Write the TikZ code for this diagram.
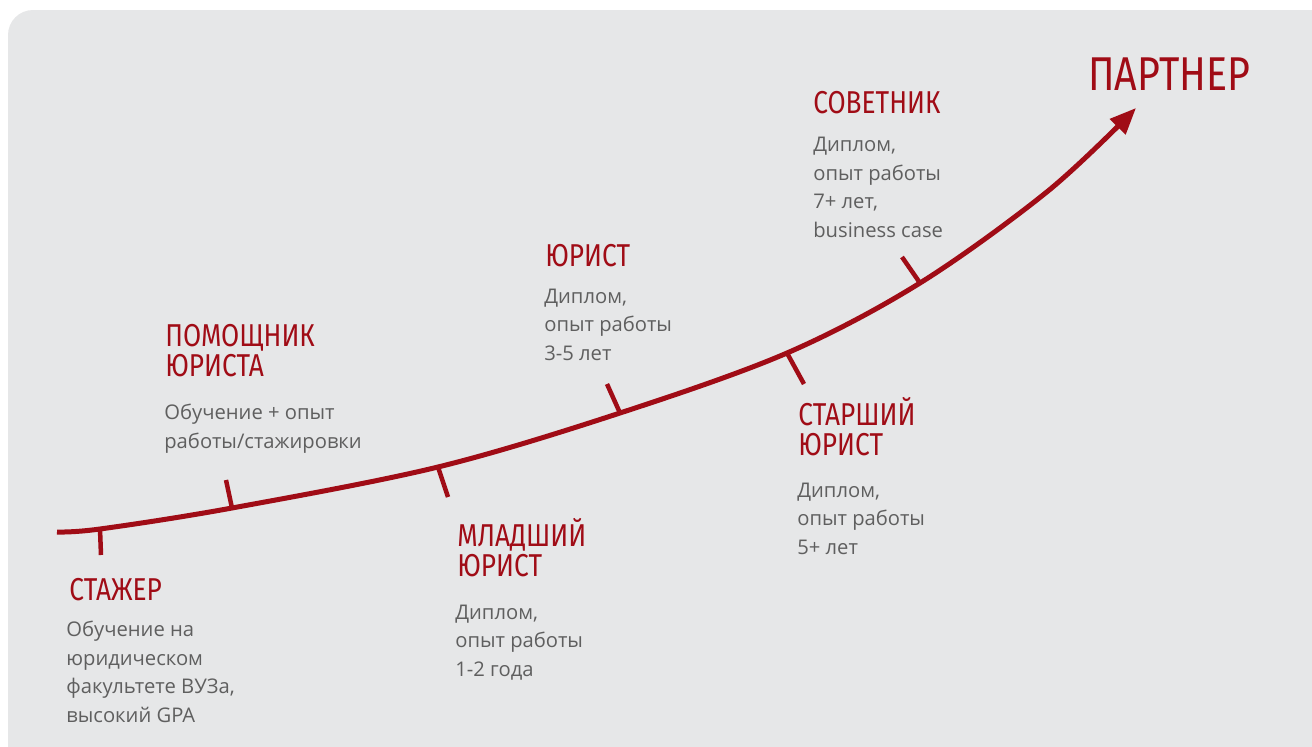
\documentclass[tikz,border=0pt]{standalone}
\usepackage{fontspec}
\setmainfont{Open Sans}
\newfontfamily\hdfont[FakeStretch=0.83]{Fira Sans}
\usetikzlibrary{arrows.meta}
\definecolor{bgc}{RGB}{230,231,232}
\definecolor{redc}{RGB}{160,12,22}
\definecolor{txtc}{RGB}{95,95,95}
\begin{document}
\begin{tikzpicture}[x=0.02cm,y=-0.02cm,
  head/.style={anchor=base west, inner sep=0pt, align=left, text=redc, font=\hdfont\fontsize{18}{17}\selectfont},
  desc/.style={anchor=base west, inner sep=0pt, align=left, text=txtc, font=\fontsize{11.5}{16.2}\selectfont},
  curve/.style={draw=redc, line width=0.1cm},
  tickline/.style={draw=redc, line width=0.09cm}]
\useasboundingbox (0,0) rectangle (1312,747);
\clip (0,0) rectangle (1312,747);
\fill[bgc, rounded corners=0.5cm] (8,10) rectangle (1360,790);
% curve points
\coordinate (c0) at (57,532);
\coordinate (c1) at (100,529);
\coordinate (c2) at (232,508);
\coordinate (c3) at (438,467);
\coordinate (c4) at (620,413);
\coordinate (c5) at (787,353);
\coordinate (c6) at (920,283);
\coordinate (c7) at (1048,191);
\coordinate (tip) at (1136,108);
\draw[curve, -{Triangle[length=15pt,width=12pt]}] plot[smooth, tension=0.55] coordinates {(c0) (c1) (c2) (c3) (c4) (c5) (c6) (c7) (tip)};
% ticks
\coordinate (k1) at (101,555);
\coordinate (k2) at (226,480);
\coordinate (k3) at (448,497);
\coordinate (k4) at (607,384);
\coordinate (k5) at (804,384);
\coordinate (k6) at (902,257);
\draw[tickline] (c1) -- (k1);
\draw[tickline] (c2) -- (k2);
\draw[tickline] (c3) -- (k3);
\draw[tickline] (c4) -- (k4);
\draw[tickline] (c5) -- (k5);
\draw[tickline] (c6) -- (k6);
% labels (anchored at the baseline of the last line)
\node[head] (h1) at (69,600) {СТАЖЕР};
\node[desc] (d1) at (66,722) {Обучение на\\юридическом\\факультете ВУЗа,\\высокий GPA};
\node[head] (h2) at (165,376) {ПОМОЩНИК\\ЮРИСТА};
\node[desc] (d2) at (164,448) {Обучение + опыт\\работы/стажировки};
\node[head] (h3) at (457,576) {МЛАДШИЙ\\ЮРИСТ};
\node[desc] (d3) at (455,676) {Диплом,\\опыт работы\\1-2 года};
\node[head] (h4) at (545,266) {ЮРИСТ};
\node[desc] (d4) at (544,360) {Диплом,\\опыт работы\\3-5 лет};
\node[head] (h5) at (798,455) {СТАРШИЙ\\ЮРИСТ};
\node[desc] (d5) at (797,554) {Диплом,\\опыт работы\\5+ лет};
\node[head] (h6) at (813,113) {СОВЕТНИК};
\node[desc] (d6) at (813,237) {Диплом,\\опыт работы\\7+ лет,\\business case};
\node[head, font=\hdfont\fontsize{27}{30}\selectfont] (h7) at (1088,90) {ПАРТНЕР};
\end{tikzpicture}
\end{document}
